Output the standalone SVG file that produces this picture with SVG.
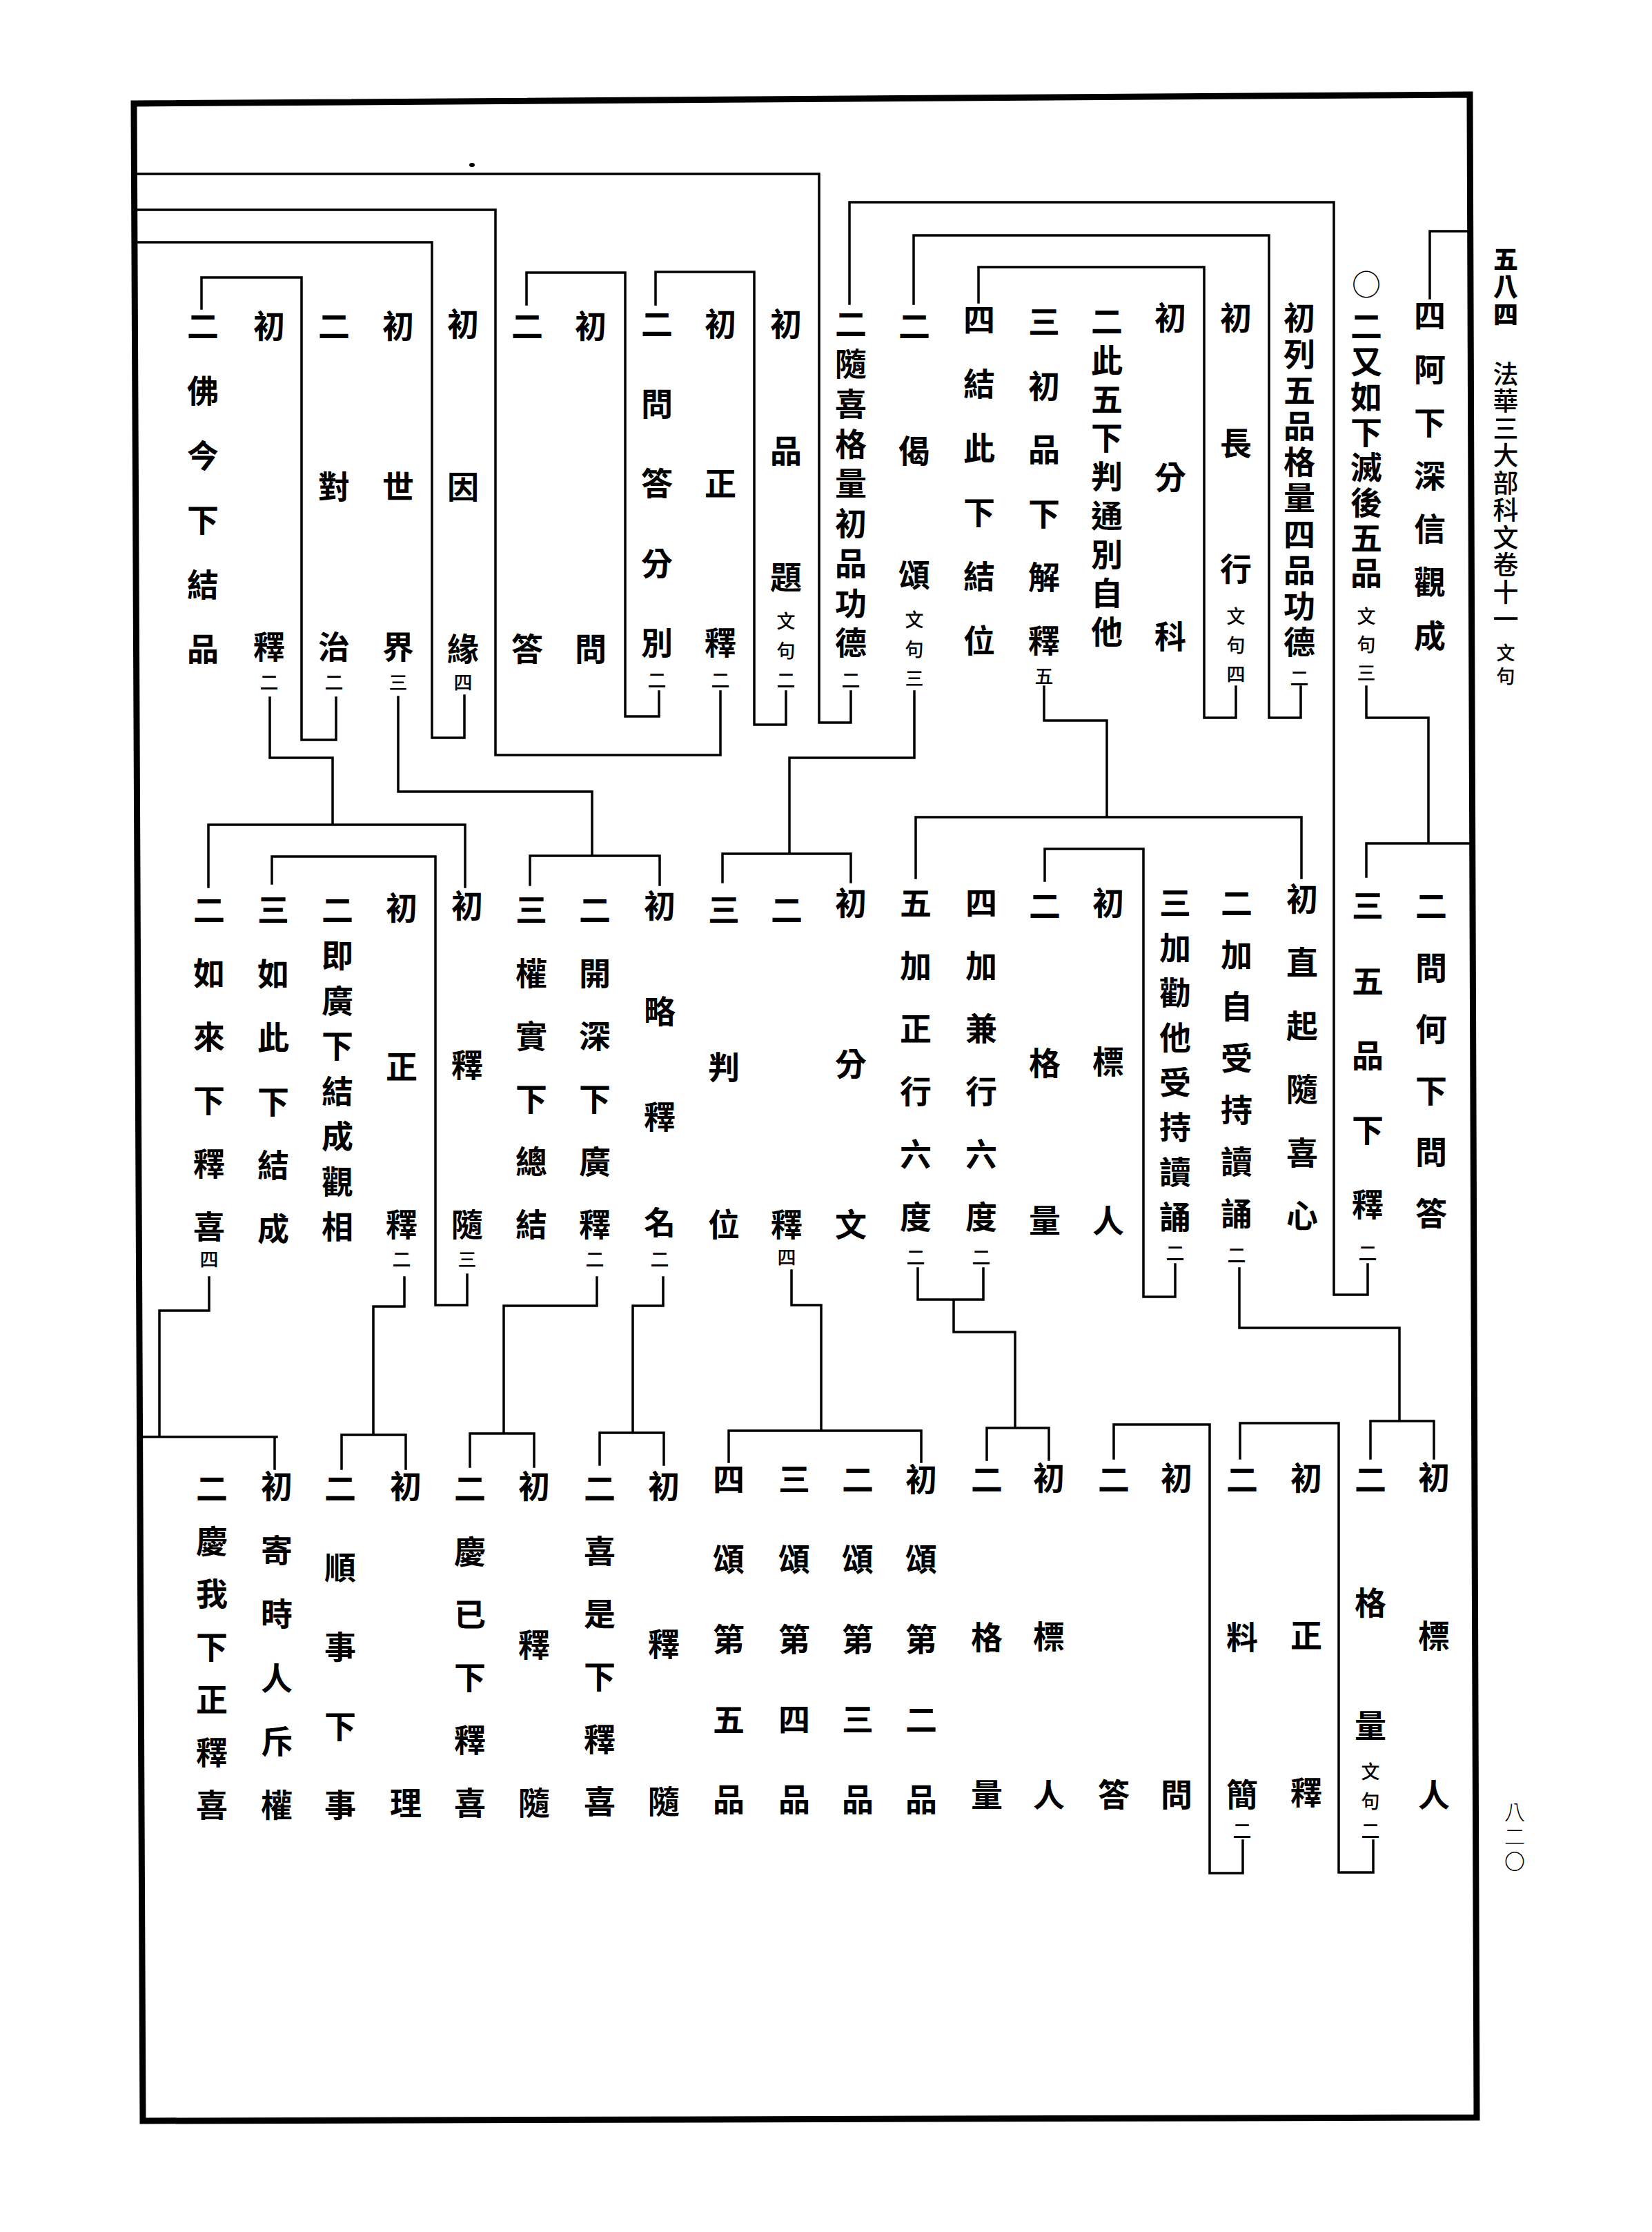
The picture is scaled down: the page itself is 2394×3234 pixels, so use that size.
<svg xmlns="http://www.w3.org/2000/svg" width="2394" height="3234" viewBox="0 0 2394 3234">
<style>
.t{font-family:"Noto Sans CJK TC","Noto Sans CJK SC",sans-serif;font-size:46px;font-weight:700;writing-mode:vertical-rl;text-anchor:start;dominant-baseline:central;fill:#000}
.s{font-size:27px;font-weight:500}
.o{font-size:42px;font-weight:400}
.h{font-size:37px;font-weight:500}
.hb{font-size:36px;font-weight:900}
.pg{font-size:30px;font-weight:300}
.c path{fill:none;stroke:#000;stroke-width:3.5;stroke-linecap:square}
.frame{fill:none;stroke:#000;stroke-width:9;stroke-linejoin:miter}
</style>
<rect width="2394" height="3234" fill="#fff"/>
<polygon class="frame" points="194,150 2130,137 2140,3068 207,3073"/>
<ellipse cx="684" cy="239" rx="4" ry="3" fill="#000"/>
<g id="header">
<text class="t hb" x="2182" y="357" letter-spacing="4">五八四</text>
<text class="t h" x="2182" y="523.5" letter-spacing="2.44">法華三大部科文卷十一</text>
<text class="t s" x="2182" y="932.5" letter-spacing="7">文句</text>
<text class="t pg" x="2195" y="2610" letter-spacing="6">八二〇</text>
</g>
<g id="connectors" class="c">
<path d="M2072,432 V335 H2128"/>
<path d="M1980,995 V1040 H2070 V1222 M1980,1270 V1222 H2132"/>
<path d="M1982,1832 V1876 H1933 V293 H1231 V440"/>
<path d="M1885,995 V1040 H1839 V341 H1324 V440"/>
<path d="M1791,995 V1040 H1745 V387 H1418 V438"/>
<path d="M1513,995 V1044 H1604 V1184 M1327,1272 V1184 H1886 V1272"/>
<path d="M1325,1002 V1098 H1144 V1237 M1047,1278 V1237 H1233 V1278"/>
<path d="M1233,1002 V1047 H1187 V252 H196"/>
<path d="M1139,1002 V1050 H1093 V394 H950 V441"/>
<path d="M1044,1002 V1094 H718 V304 H196"/>
<path d="M955,1002 V1038 H906 V395 H763 V441"/>
<path d="M673,1008 V1069 H626 V351 H196"/>
<path d="M577,1010 V1147 H858 V1240 M768,1282 V1240 H956 V1282"/>
<path d="M487,1011 V1072 H437 V402 H292 V447"/>
<path d="M391,1011 V1098 H482 V1195 M302,1285 V1195 H674 V1285"/>
<path d="M1796,1838 V1924 H2028 V2059 M1986,2113 V2059 H2078 V2113"/>
<path d="M1703,1832 V1879 H1657 V1230 H1514 V1276"/>
<path d="M1425,1838 V1883 H1330 V1838 M1382,1883 V1930 H1471 V2069 M1430,2115 V2069 H1520 V2115"/>
<path d="M1147,1841 V1891 H1190 V2073 M1056,2118 V2073 H1335 V2118"/>
<path d="M961,1851 V1892 H917 V2076 M869,2122 V2076 H962 V2122"/>
<path d="M865,1851 V1892 H730 V2077 M681,2125 V2077 H774 V2125"/>
<path d="M677,1847 V1891 H631 V1241 H394 V1280"/>
<path d="M586,1851 V1893 H541 V2079 M495,2128 V2079 H588 V2128"/>
<path d="M303,1851 V1899 H231 V2082 M203,2082 H401 M398,2082 V2128"/>
<path d="M1990,2667 V2713 H1940 V2062 H1797 V2113"/>
<path d="M1801,2667 V2714 H1753 V2064 H1614 V2113"/>
</g>
<g id="n1"><text class="t" x="2072" y="434" letter-spacing="31.2">四阿下深信觀成</text></g>
<g id="n2"><text class="t o" x="1980" y="391">○</text><text class="t" x="1980" y="449" letter-spacing="5.1">二又如下滅後五品</text><text class="t s" x="1980" y="879.5" letter-spacing="14">文句三</text></g>
<g id="n3"><text class="t" x="1883" y="437" letter-spacing="6.2">初列五品格量四品功德</text><text class="t s" x="1883" y="969.5">二</text></g>
<g id="n4"><text class="t" x="1791" y="437" letter-spacing="136">初長行</text><text class="t s" x="1791" y="879.5" letter-spacing="15">文句四</text></g>
<g id="n5"><text class="t" x="1696" y="437" letter-spacing="185">初分科</text></g>
<g id="n6"><text class="t" x="1604" y="442" letter-spacing="10.25">二此五下判通別自他</text></g>
<g id="n7"><text class="t" x="1513" y="443" letter-spacing="46.4">三初品下解釋</text><text class="t s" x="1513" y="966.5">五</text></g>
<g id="n8"><text class="t" x="1419" y="440" letter-spacing="47">四結此下結位</text></g>
<g id="n9"><text class="t" x="1325" y="449" letter-spacing="134.5">二偈頌</text><text class="t s" x="1325" y="884.5" letter-spacing="15.5">文句三</text></g>
<g id="n10"><text class="t" x="1233" y="446" letter-spacing="11.75">二隨喜格量初品功德</text><text class="t s" x="1233" y="972.5">二</text></g>
<g id="n11"><text class="t" x="1139" y="446" letter-spacing="137.5">初品題</text><text class="t s" x="1139" y="886.5" letter-spacing="16">文句二</text></g>
<g id="n12"><text class="t" x="1044" y="446" letter-spacing="185">初正釋</text><text class="t s" x="1044" y="972.5">二</text></g>
<g id="n13"><text class="t" x="952" y="446" letter-spacing="69.5">二問答分別</text><text class="t s" x="952" y="972.5">二</text></g>
<g id="n14"><text class="t" x="856" y="449" letter-spacing="422">初問</text></g>
<g id="n15"><text class="t" x="764" y="449" letter-spacing="422">二答</text></g>
<g id="n16"><text class="t" x="671" y="446" letter-spacing="189.5">初因緣</text><text class="t s" x="671" y="975.5">四</text></g>
<g id="n17"><text class="t" x="577" y="449" letter-spacing="186.5">初世界</text><text class="t s" x="577" y="975.5">三</text></g>
<g id="n18"><text class="t" x="484" y="449" letter-spacing="186.5">二對治</text><text class="t s" x="484" y="975.5">二</text></g>
<g id="n19"><text class="t" x="390" y="449" letter-spacing="419">初釋</text><text class="t s" x="390" y="975.5">二</text></g>
<g id="n20"><text class="t" x="294" y="449" letter-spacing="47.6">二佛今下結品</text></g>
<g id="n21"><text class="t" x="2074" y="1289" letter-spacing="43.2">二問何下問答</text></g>
<g id="n22"><text class="t" x="1982" y="1289" letter-spacing="62.25">三五品下釋</text><text class="t s" x="1982" y="1802.5">二</text></g>
<g id="n23"><text class="t" x="1887" y="1279" letter-spacing="45.8">初直起隨喜心</text></g>
<g id="n24"><text class="t" x="1792" y="1285" letter-spacing="29">二加自受持讀誦</text><text class="t s" x="1792" y="1805.5">二</text></g>
<g id="n25"><text class="t" x="1703" y="1285" letter-spacing="19">三加勸他受持讀誦</text><text class="t s" x="1703" y="1802.5">二</text></g>
<g id="n26"><text class="t" x="1606" y="1285" letter-spacing="184">初標人</text></g>
<g id="n27"><text class="t" x="1514" y="1289" letter-spacing="182">二格量</text></g>
<g id="n28"><text class="t" x="1422" y="1285" letter-spacing="45">四加兼行六度</text><text class="t s" x="1422" y="1808.5">二</text></g>
<g id="n29"><text class="t" x="1327" y="1285" letter-spacing="45">五加正行六度</text><text class="t s" x="1327" y="1808.5">二</text></g>
<g id="n30"><text class="t" x="1233" y="1285" letter-spacing="187">初分文</text></g>
<g id="n31"><text class="t" x="1140" y="1295" letter-spacing="410">二釋</text><text class="t s" x="1140" y="1808.5">四</text></g>
<g id="n32"><text class="t" x="1049" y="1295" letter-spacing="182">三判位</text></g>
<g id="n33"><text class="t" x="956" y="1289" letter-spacing="107">初略釋名</text><text class="t s" x="956" y="1811.5">二</text></g>
<g id="n34"><text class="t" x="862" y="1295" letter-spacing="45.2">二開深下廣釋</text><text class="t s" x="862" y="1811.5">二</text></g>
<g id="n35"><text class="t" x="770" y="1295" letter-spacing="45.2">三權實下總結</text></g>
<g id="n36"><text class="t" x="677" y="1289" letter-spacing="185">初釋隨</text><text class="t s" x="677" y="1811.5">三</text></g>
<g id="n37"><text class="t" x="582" y="1292" letter-spacing="183.5">初正釋</text><text class="t s" x="582" y="1811.5">二</text></g>
<g id="n38"><text class="t" x="489" y="1295" letter-spacing="19.57">二即廣下結成觀相</text></g>
<g id="n39"><text class="t" x="396" y="1295" letter-spacing="46.4">三如此下結成</text></g>
<g id="n40"><text class="t" x="303" y="1295" letter-spacing="45.8">二如來下釋喜</text><text class="t s" x="303" y="1811.5">四</text></g>
<g id="n41"><text class="t" x="2078" y="2117" letter-spacing="184">初標人</text></g>
<g id="n42"><text class="t" x="1986" y="2120" letter-spacing="132.5">二格量</text><text class="t s" x="1986" y="2553.5" letter-spacing="16">文句二</text></g>
<g id="n43"><text class="t" x="1893" y="2118" letter-spacing="182">初正釋</text></g>
<g id="n44"><text class="t" x="1800" y="2120" letter-spacing="182.5">二料簡</text><text class="t s" x="1800" y="2639.5">二</text></g>
<g id="n45"><text class="t" x="1705" y="2118" letter-spacing="413">初問</text></g>
<g id="n46"><text class="t" x="1614" y="2120" letter-spacing="411">二答</text></g>
<g id="n47"><text class="t" x="1520" y="2118" letter-spacing="183.5">初標人</text></g>
<g id="n48"><text class="t" x="1430" y="2120" letter-spacing="182.5">二格量</text></g>
<g id="n49"><text class="t" x="1335" y="2120" letter-spacing="70">初頌第二品</text></g>
<g id="n50"><text class="t" x="1243" y="2120" letter-spacing="70">二頌第三品</text></g>
<g id="n51"><text class="t" x="1151" y="2120" letter-spacing="70">三頌第四品</text></g>
<g id="n52"><text class="t" x="1056" y="2120" letter-spacing="70">四頌第五品</text></g>
<g id="n53"><text class="t" x="962" y="2130" letter-spacing="182.5">初釋隨</text></g>
<g id="n54"><text class="t" x="869" y="2133" letter-spacing="44.8">二喜是下釋喜</text></g>
<g id="n55"><text class="t" x="774" y="2130" letter-spacing="183.5">初釋隨</text></g>
<g id="n56"><text class="t" x="681" y="2133" letter-spacing="45.2">二慶已下釋喜</text></g>
<g id="n57"><text class="t" x="588" y="2130" letter-spacing="413">初理</text></g>
<g id="n58"><text class="t" x="493" y="2133" letter-spacing="68.75">二順事下事</text></g>
<g id="n59"><text class="t" x="401" y="2130" letter-spacing="46.4">初寄時人斥權</text></g>
<g id="n60"><text class="t" x="307" y="2133" letter-spacing="30.5">二慶我下正釋喜</text></g>
</svg>
